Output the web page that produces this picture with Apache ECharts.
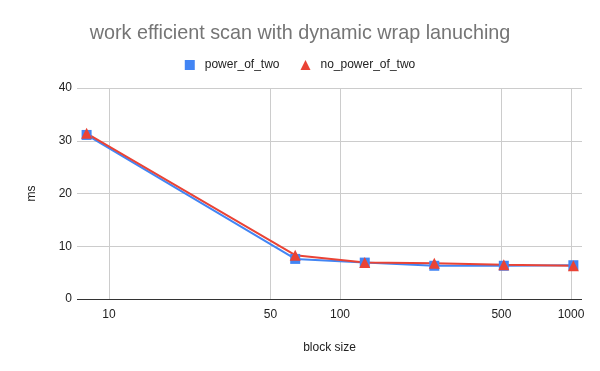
<!DOCTYPE html>
<html><head><meta charset="utf-8">
<script src="https://cdn.jsdelivr.net/npm/echarts@6/dist/echarts.min.js"></script>
<style>html,body{margin:0;padding:0;background:#fff}#c{width:600px;height:371px}</style>
</head><body><div id="c"></div>
<script>
const blockSizes = [8, 64, 128, 256, 512, 1024];
const powerOfTwo = [31.1, 7.6, 6.9, 6.3, 6.3, 6.4];
const noPowerOfTwo = [31.4, 8.3, 6.9, 6.8, 6.5, 6.3];
const xTicks = [10, 50, 100, 500, 1000];
const yTicks = [0, 10, 20, 30, 40];

const chart = echarts.init(document.getElementById('c'));
const font = 'Liberation Sans, Arial, sans-serif';
chart.setOption({
  animation: false,
  textStyle: { fontFamily: font },
  title: {
    text: 'work efficient scan with dynamic wrap lanuching',
    left: 'center', top: 19,
    textStyle: { fontFamily: font, fontSize: 19.8, fontWeight: 'normal', color: '#757575' }
  },
  legend: {
    top: 54, left: 'center', itemWidth: 10, itemHeight: 10, itemGap: 21,
    textStyle: { fontFamily: font, fontSize: 12, color: '#222', padding: [0, 0, 0, 5] },
    data: [{ name: 'power_of_two', icon: 'rect' }, { name: 'no_power_of_two', icon: 'triangle' }]
  },
  grid: { left: 77, right: 18, top: 88, bottom: 72, containLabel: false },
  xAxis: {
    type: 'log', logBase: 10, min: 7.27, max: 1116,
    name: 'block size', nameLocation: 'middle', nameGap: 43,
    nameTextStyle: { fontFamily: font, fontSize: 12, color: '#222' },
    axisLine: { show: false },
    axisTick: { show: false, customValues: xTicks },
    axisLabel: { customValues: xTicks, formatter: v => String(v), color: '#222', fontSize: 12, fontFamily: font, margin: 10 },
    splitLine: { show: true, lineStyle: { color: '#cccccc', width: 1 } }
  },
  yAxis: {
    type: 'value', min: yTicks[0], max: yTicks[yTicks.length - 1], interval: 10,
    name: 'ms', nameLocation: 'middle', nameGap: 39, nameRotate: 90,
    nameTextStyle: { fontFamily: font, fontSize: 12, color: '#222' },
    axisLine: { show: false }, axisTick: { show: false },
    axisLabel: { color: '#222', fontSize: 12, fontFamily: font, margin: 5 },
    splitLine: { lineStyle: { color: '#cccccc', width: 1 } }
  },
  series: [
    {
      name: 'power_of_two', type: 'line', symbol: 'rect', symbolSize: 10,
      data: blockSizes.map((x, i) => [x, powerOfTwo[i]]),
      itemStyle: { color: '#4285F4' }, lineStyle: { color: '#4285F4', width: 2 }
    },
    {
      name: 'no_power_of_two', type: 'line', symbol: 'triangle', symbolSize: 11,
      data: blockSizes.map((x, i) => [x, noPowerOfTwo[i]]),
      itemStyle: { color: '#EA4335' }, lineStyle: { color: '#EA4335', width: 2 },
      markLine: {
        silent: true, symbol: 'none', label: { show: false },
        lineStyle: { color: '#333', width: 1, type: 'solid' },
        data: [{ yAxis: 0 }]
      }
    }
  ]
});
</script></body></html>
